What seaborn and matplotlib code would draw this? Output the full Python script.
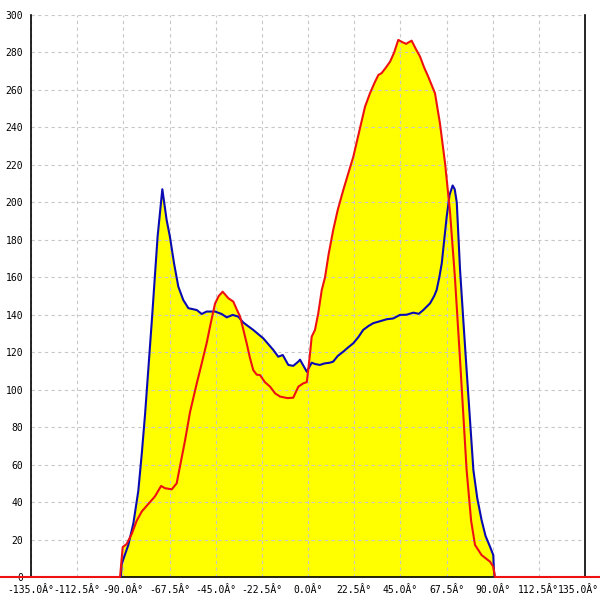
import numpy as np
import pandas as pd
import matplotlib
matplotlib.use("Agg")
import matplotlib.pyplot as plt
from matplotlib.transforms import ScaledTranslation
import seaborn as sns

# --- data (angle in degrees, value) ---
blue_deg = [-91.2, -90.8, -87.6, -85.1, -82.7, -81.0, -79.4, -76.1, -73.3, -71.0,
            -68.9, -67.3, -65.3, -63.2, -60.8, -58.3, -54.2, -51.8, -49.4, -45.3,
            -42.1, -39.6, -36.7, -34.0, -31.5, -26.7, -21.8, -16.9, -14.5, -12.3,
            -9.6, -7.2, -4.7, -3.9, -0.6, 1.8, 3.4, 5.8, 8.0, 10.7,
            12.3, 14.5, 17.2, 19.5, 22.1, 24.5, 26.9, 29.5, 31.8, 35.0,
            38.4, 41.5, 44.8, 48.0, 51.3, 54.0, 56.2, 59.5, 61.5, 62.7,
            64.0, 65.2, 66.4, 67.6, 69.0, 70.5, 71.5, 72.5, 74.1, 75.7,
            77.3, 79.0, 80.6, 82.5, 84.6, 86.5, 88.7, 90.3, 90.6, 91.0]
blue_val = [0, 7, 17, 28.7, 46, 66, 87, 137, 181.7, 207,
            190.6, 181.7, 167.5, 155, 147.9, 143.5, 142.5, 140.4, 141.7, 141.7,
            140.4, 138.6, 139.9, 139, 135.8, 131.9, 127.4, 121.2, 117.6, 118.5,
            113.2, 112.7, 115, 116, 109.6, 114.4, 113.7, 113.2, 114, 114.4,
            115, 118, 120.3, 122.5, 124.8, 128, 131.9, 134, 135.5, 136.5,
            137.6, 138, 139.9, 140, 141.1, 140.5, 142.5, 146.1, 150, 153.2,
            160, 167.5, 180, 192.4, 204, 209, 207, 200, 164, 137,
            110.5, 83, 57.1, 42, 30.4, 22, 16.2, 11.7, 3.7, 0]

red_deg = [-180, -91.6, -90.3, -88.4, -85.9, -83.5, -81.0, -77.0, -74.6, -71.6,
           -69.7, -66.4, -64.0, -62.4, -59.9, -57.5, -54.2, -51.8, -49.4, -47.3,
           -45.3, -43.5, -41.6, -38.8, -36.4, -34.8, -33.1, -31.5, -29.9, -28.3,
           -26.7, -25.0, -23.4, -21.0, -18.5, -16.0, -13.6, -10.0, -7.2, -4.7,
           -2.3, -0.6, 0.1, 1.0, 1.8, 3.4, 5.0, 6.7, 8.3, 10.0,
           12.3, 14.5, 17.2, 19.5, 22.1, 25.0, 27.8, 30.2, 32.5, 34.3,
           35.9, 38.0, 40.0, 42.0, 44.0, 46.0, 47.8, 50.5, 52.5, 54.6,
           56.6, 58.6, 61.9, 64.3, 66.8, 69.2, 71.6, 74.1, 77.3, 79.5,
           81.4, 84.6, 88.7, 90.3, 91.1, 180]
red_val = [0, 0, 16, 17.6, 23, 30, 35, 40, 43, 48.6,
           47.4, 46.8, 50, 59, 73, 88, 103.4, 114, 124.8, 136,
           146, 150, 152.3, 148.8, 147, 143, 139, 132, 124.8, 117,
           110.5, 108, 107.8, 104, 101.6, 98, 96.3, 95.5, 95.7, 101.6,
           103.4, 104, 110.5, 119.4, 128.3, 131.9, 140.8, 153.2, 160, 172,
           185.3, 196, 206.6, 215, 224.4, 238, 251.1, 258.2, 264, 268,
           269, 272, 275.1, 280, 286.7, 285.5, 284.6, 286.3, 282, 277.8,
           272, 267.1, 258.2, 242.2, 220.9, 195, 160, 116, 57.1, 30,
           17.1, 11.7, 8.2, 5.5, 0, 0]

x_ticks = np.arange(-135, 135.1, 22.5)
y_ticks = np.arange(0, 301, 20)

blue_df = pd.DataFrame({"deg": blue_deg, "val": blue_val})
red_df = pd.DataFrame({"deg": red_deg, "val": red_val})

sns.set_style("white")
plt.rcParams['font.family'] = ['DejaVu Sans Mono']

fig = plt.figure(figsize=(6, 6), dpi=100)
ax = fig.add_axes([31 / 600, 23 / 600, 554 / 600, 562 / 600])

# yellow area under both profiles
ax.fill_between(blue_df["deg"], blue_df["val"], color="#ffff00", lw=0, zorder=1)
ax.fill_between(red_df["deg"], red_df["val"], color="#ffff00", lw=0, zorder=1)

sns.lineplot(data=blue_df, x="deg", y="val", sort=False, estimator=None,
             color="#0a0ab4", lw=1.5, ax=ax, zorder=3)
sns.lineplot(data=red_df, x="deg", y="val", sort=False, estimator=None,
             color="#ee1111", lw=1.5, ax=ax, zorder=4, clip_on=False)

ax.set_xlim(-135, 135)
ax.set_ylim(0, 300)
ax.set_xticks(x_ticks)
ax.set_xticklabels([f"{v:.1f}Â°" for v in x_ticks])
ax.set_yticks(y_ticks)
ax.set_yticklabels([str(v) for v in y_ticks])
ax.set_xlabel("")
ax.set_ylabel("")

ax.set_axisbelow("line")
ax.grid(True, color="#c8c8c8", linestyle=(0, (3, 3)), lw=0.8, zorder=1.5)

for side in ["left", "right", "bottom"]:
    ax.spines[side].set_color("black")
    ax.spines[side].set_linewidth(1.2)
ax.spines["top"].set_visible(False)

ax.tick_params(axis="both", direction="inout", length=7, width=1.2,
               colors="black", labelsize=7)
ax.tick_params(axis="y", pad=2)
ax.tick_params(axis="x", pad=2)

# keep the last x label inside the picture
last = ax.get_xticklabels()[-1]
last.set_transform(last.get_transform() + ScaledTranslation(-0.07, 0, fig.dpi_scale_trans))

fig.savefig("out.png", dpi=100)
